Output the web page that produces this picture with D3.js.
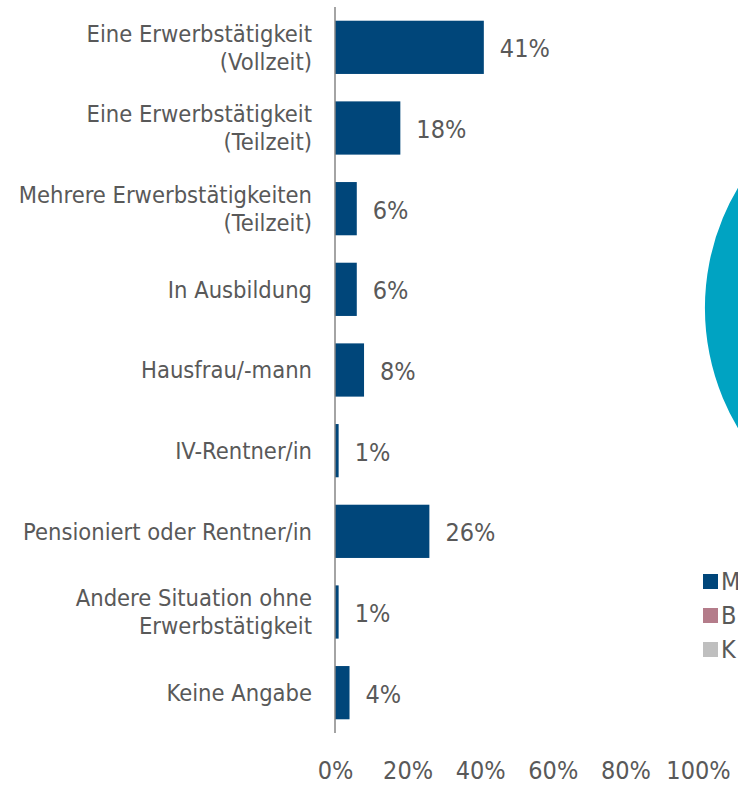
<!DOCTYPE html>
<html><head><meta charset="utf-8">
<script src="https://cdn.jsdelivr.net/npm/d3@7"></script>
<style>
html,body{margin:0;padding:0;background:#fff;overflow:hidden;}
svg{display:block;}
text{font-family:"DejaVu Sans Condensed","DejaVu Sans",sans-serif;fill:#595959;}
</style></head>
<body>
<svg id="chart" width="738" height="785"></svg>
<script>
const categories = [
  ["Eine Erwerbstätigkeit","(Vollzeit)"],
  ["Eine Erwerbstätigkeit","(Teilzeit)"],
  ["Mehrere Erwerbstätigkeiten","(Teilzeit)"],
  ["In Ausbildung"],
  ["Hausfrau/-mann"],
  ["IV-Rentner/in"],
  ["Pensioniert oder Rentner/in"],
  ["Andere Situation ohne","Erwerbstätigkeit"],
  ["Keine Angabe"]
];
const values = [41, 18, 6, 6, 8, 1, 26, 1, 4];
const tickValues = [0, 20, 40, 60, 80, 100];
const legendLabels = ["M", "B", "K"];
const legendColors = ["#00467a", "#b47c8a", "#bfbfbf"];
const pieValues = [100];
const pieColors = ["#00a3c2"];

const svg = d3.select("#chart");
const barColor = "#00467a";
const FONT = '"DejaVu Sans Condensed","DejaVu Sans",sans-serif';

function fitSize(str, target, base) {
  const t = svg.append("text").attr("font-size", base).text(str);
  const w = t.node().getComputedTextLength();
  t.remove();
  return base * target / w;
}
const catSize = fitSize("Pensioniert oder Rentner/in", 289, 22);
const numSize = 25;

const x = d3.scaleLinear().domain([0, 100]).range([335, 698]);
const y = d3.scaleBand().domain(d3.range(categories.length)).range([7, 733])
  .paddingInner(0.34).paddingOuter(0.17);

svg.append("g").selectAll("rect").data(values).join("rect")
  .attr("x", x(0))
  .attr("y", (d, i) => y(i))
  .attr("width", d => x(d) - x(0))
  .attr("height", y.bandwidth())
  .attr("fill", barColor);

svg.append("line").attr("x1", x(0)).attr("x2", x(0)).attr("y1", 7).attr("y2", 733)
  .attr("stroke", "#868686").attr("stroke-width", 1.5);

const lineH = 28;
const cg = svg.append("g");
categories.forEach((lines, i) => {
  const cy = y(i) + y.bandwidth() / 2;
  const n = lines.length;
  lines.forEach((ln, k) => {
    cg.append("text")
      .attr("x", 312)
      .attr("y", cy + (k - (n - 1) / 2) * lineH + catSize * 0.36)
      .attr("text-anchor", "end")
      .attr("font-size", catSize)
      .text(ln);
  });
});

svg.append("g").selectAll("text").data(values).join("text")
  .attr("x", d => x(d) + 16)
  .attr("y", (d, i) => y(i) + y.bandwidth() / 2 + 10)
  .attr("font-size", numSize)
  .text(d => d + "%");

const xAxis = d3.axisBottom(x).tickValues(tickValues).tickSize(0).tickPadding(0)
  .tickFormat(d => d + "%");
const ax = svg.append("g").attr("transform", "translate(0,758)").call(xAxis);
ax.select(".domain").remove();
ax.selectAll("text").attr("font-size", numSize).attr("fill", "#595959")
  .attr("font-family", FONT).attr("dy", null).attr("y", 21);

const arc = d3.arc().innerRadius(0).outerRadius(235);
const pie = d3.pie().sort(null);
svg.append("g").attr("transform", "translate(940,308)")
  .selectAll("path").data(pie(pieValues)).join("path")
  .attr("d", arc).attr("fill", (d, i) => pieColors[i]);

const lg = svg.append("g");
legendLabels.forEach((l, i) => {
  const ly = 581 + i * 34;
  lg.append("rect").attr("x", 703).attr("y", ly - 7).attr("width", 15).attr("height", 15)
    .attr("fill", legendColors[i]);
  lg.append("text").attr("x", 721).attr("y", ly + 9)
    .attr("font-size", numSize).text(l);
});
</script>
</body></html>
